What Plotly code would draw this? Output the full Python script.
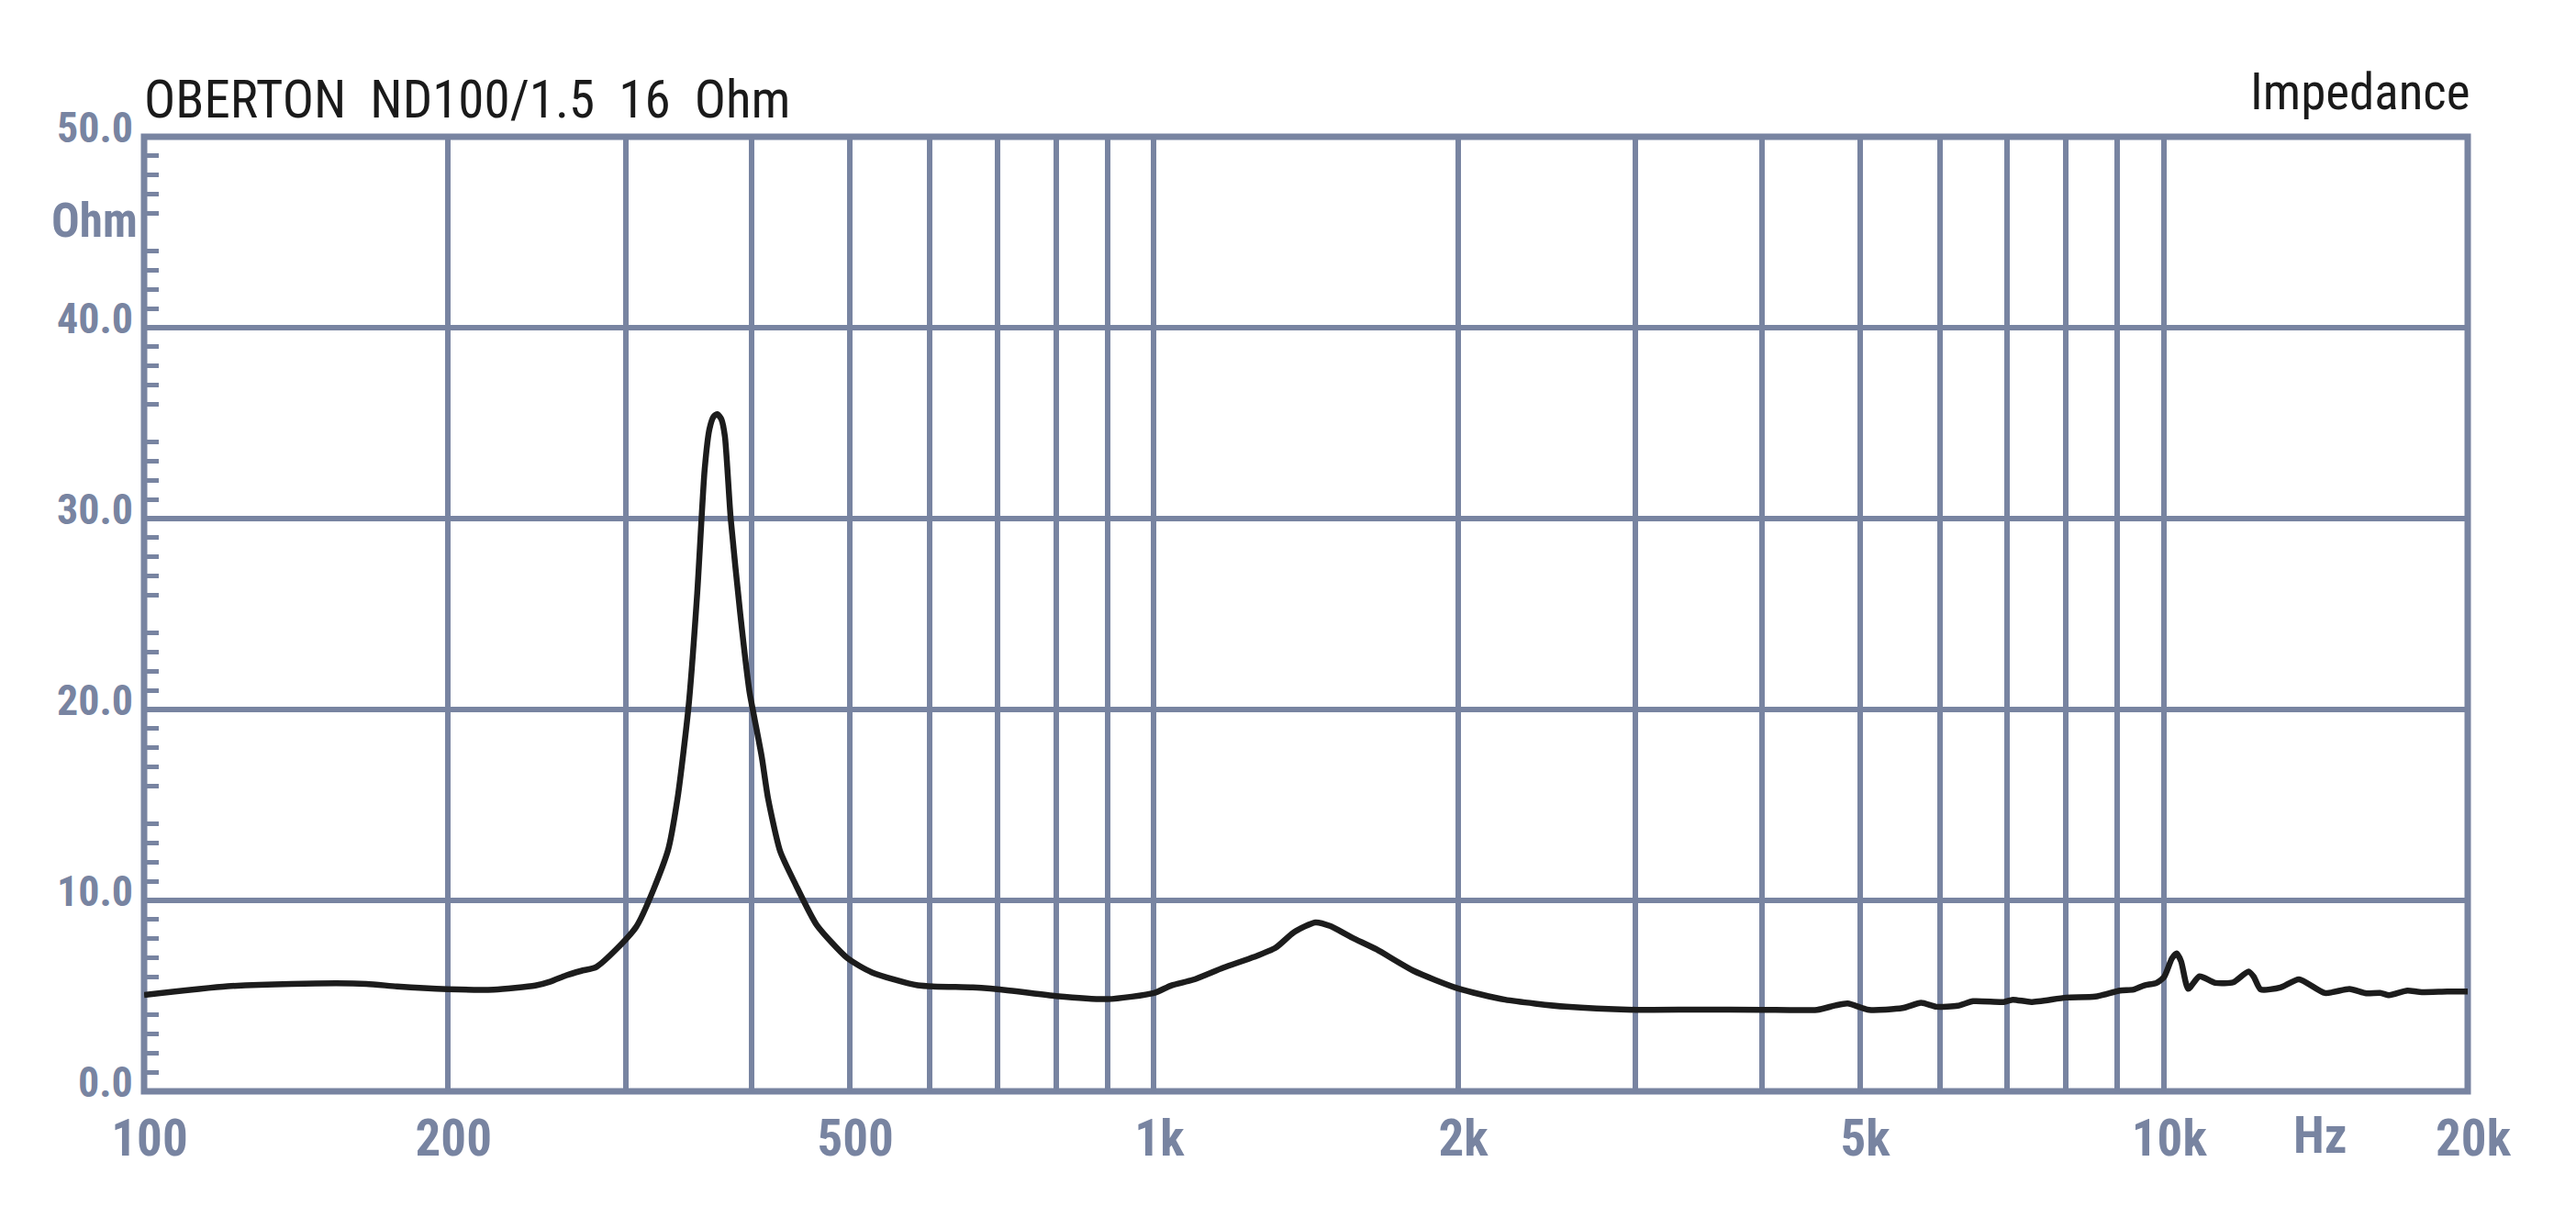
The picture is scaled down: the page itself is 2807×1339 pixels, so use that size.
import plotly.graph_objects as go
import numpy as np

# ---- data ----
freq_hz = [100, 121, 140, 166, 178, 200, 222, 244, 252.7, 261.7, 271, 280.6, 307, 330, 337.5, 346,
           353, 359, 363, 366.5, 369.6, 373, 376, 381, 389.4, 397.6, 401.8, 409, 414.8, 426.5,
           441.6, 463.6, 497, 525.8, 583.6, 661.7, 719.6, 800, 900, 1000, 1041, 1093, 1172, 1257,
           1320, 1376, 1445, 1496, 1572, 1662, 1806, 2000, 2227, 2561, 3000, 3456, 4000, 4537,
           4731, 4864, 5108, 5513, 5751, 5956, 6252, 6476, 6943, 7089, 7393, 8000, 8556, 9050,
           9337, 9568, 9838, 10011, 10188, 10300, 10404, 10575, 10849, 11250, 11716, 12132,
           12280, 12471, 13050, 13612, 14441, 15272, 15869, 16377, 16724, 17430, 17924, 19093,
           20000]
impedance_ohm = [5.05, 5.5, 5.63, 5.63, 5.49, 5.35, 5.33, 5.54, 5.75, 6.07, 6.31, 6.52, 8.6, 12.57,
                 15.35, 20.1, 26.1, 32.55, 34.7, 35.35, 35.47, 35.2, 34.3, 30.0, 25.0, 20.95,
                 19.66, 17.5, 15.36, 12.57, 10.85, 8.71, 6.98, 6.23, 5.55, 5.44, 5.28, 4.99, 4.83,
                 5.15, 5.55, 5.84, 6.48, 7.04, 7.52, 8.33, 8.85, 8.65, 8.05, 7.43, 6.32, 5.39, 4.8,
                 4.43, 4.27, 4.28, 4.27, 4.27, 4.5, 4.6, 4.27, 4.36, 4.64, 4.43, 4.48, 4.72, 4.68,
                 4.8, 4.68, 4.91, 4.96, 5.28, 5.33, 5.55, 5.68, 6.0, 6.96, 7.22, 6.81, 5.37, 6.02,
                 5.68, 5.71, 6.28, 6.0, 5.34, 5.44, 5.87, 5.15, 5.36, 5.13, 5.16, 5.04, 5.28, 5.2,
                 5.23, 5.23]

x_grid_vals = [100, 200, 300, 400, 500, 600, 700, 800, 900, 1000, 2000, 3000, 4000, 5000,
               6000, 7000, 8000, 9000, 10000, 20000]
x_grid_text = ["100", "200", "", "", "500", "", "", "", "", "1k", "2k", "", "", "5k",
               "", "", "", "", "10k", "20k"]
y_major_vals = [0, 10, 20, 30, 40, 50]
y_minor_vals = [v for d in range(0, 50, 10) for v in (d + 1, d + 2, d + 3, d + 4, d + 6, d + 7, d + 8, d + 9)]

title_left = "OBERTON  ND100/1.5  16  Ohm"
title_right = "Impedance"
unit_y = "Ohm"
unit_y_pos = 45.6
unit_x = "Hz"
unit_x_pos = 14280

GRID = "#7884A1"
FONT = "Roboto Condensed, Liberation Sans Narrow, Arial Narrow, Roboto, Liberation Sans, Arial, sans-serif"

fig = go.Figure()
fig.add_trace(go.Scatter(
    x=freq_hz, y=impedance_ohm, mode="lines",
    line=dict(color="#1c1c1c", width=6.5, shape="spline", smoothing=0.6),
    hoverinfo="skip", showlegend=False))

# the page body has an 8px default margin; size the figure so it fits the window
fig.update_layout(
    width=2791, height=1323,
    margin=dict(l=149, r=110, t=141, b=142),
    paper_bgcolor="white", plot_bgcolor="white",
    showlegend=False,
)

fig.update_xaxes(
    type="log", range=[np.log10(100), np.log10(20000)],
    tickmode="array", tickvals=x_grid_vals, ticktext=x_grid_text,
    showgrid=True, gridcolor=GRID, gridwidth=6,
    ticks="", showline=False, zeroline=False,
    ticklabelstandoff=14, ticklabelshift=6,
    tickfont=dict(family=FONT, size=55, color=GRID, weight="bold"),
)
fig.update_yaxes(
    range=[0, 50],
    tickmode="array", tickvals=y_major_vals,
    showticklabels=False,
    showgrid=True, gridcolor=GRID, gridwidth=6,
    ticks="", showline=False, zeroline=False,
    minor=dict(tickmode="array", tickvals=y_minor_vals, ticks="inside",
               ticklen=16, tickwidth=5, tickcolor=GRID, showgrid=False),
)

# y tick labels sit slightly above their gridlines in the reference
for v in y_major_vals:
    fig.add_annotation(text=f"{v:.1f}", xref="paper", yref="y", x=0, y=v,
                       xanchor="right", yanchor="middle", xshift=-10, yshift=10,
                       showarrow=False,
                       font=dict(family=FONT, size=46, color=GRID, weight="bold"))

fig.add_shape(type="rect", xref="paper", yref="paper", x0=0, x1=1, y0=0, y1=1,
              line=dict(color=GRID, width=7), layer="between")

fig.add_annotation(text=title_left, xref="paper", yref="paper", x=0, y=1,
                   xanchor="left", yanchor="bottom", xshift=-2, yshift=5, showarrow=False,
                   font=dict(family=FONT, size=57, color="#1a1a1a"))
fig.add_annotation(text=title_right, xref="paper", yref="paper", x=1, y=1,
                   xanchor="right", yanchor="bottom", xshift=5, yshift=15, showarrow=False,
                   font=dict(family=FONT, size=55, color="#1a1a1a"))
fig.add_annotation(text=unit_y, xref="paper", yref="y", x=0, y=unit_y_pos,
                   xanchor="right", yanchor="middle", xshift=-5, showarrow=False,
                   font=dict(family=FONT, size=51, color=GRID, weight="bold"))
fig.add_annotation(text=unit_x, xref="x", yref="paper", x=np.log10(unit_x_pos), y=0,
                   xanchor="center", yanchor="top", yshift=-14, showarrow=False,
                   font=dict(family=FONT, size=55, color=GRID, weight="bold"))

fig.write_html("out.html")
